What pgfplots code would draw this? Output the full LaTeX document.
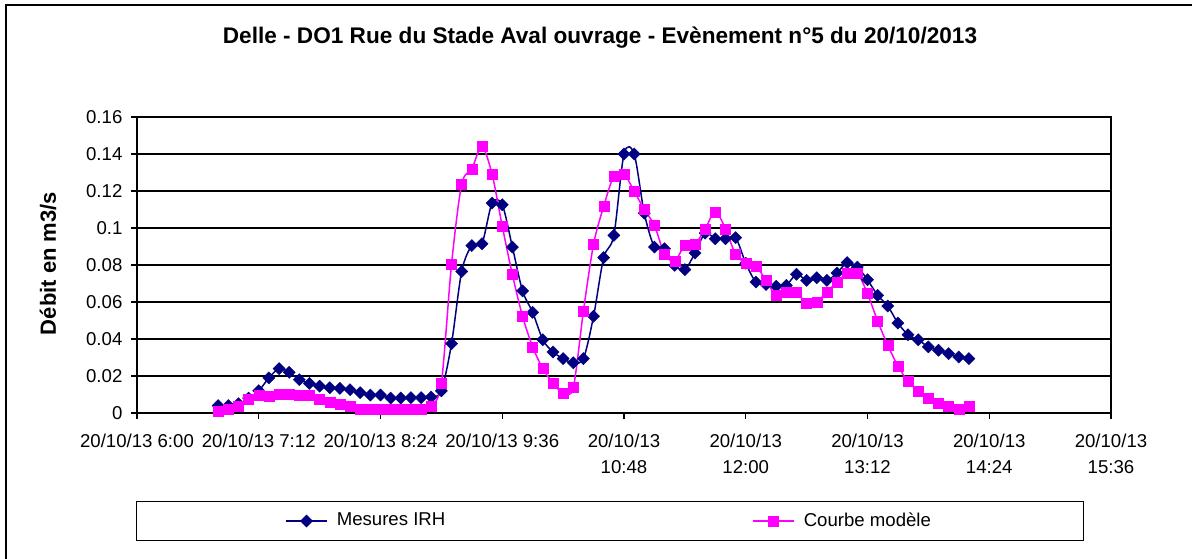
\documentclass[border=0pt]{standalone}
\usepackage{fontspec}
\setmainfont{Liberation Sans}
\usepackage{pgfplots}
\pgfplotsset{compat=1.18}
\definecolor{irh}{RGB}{0,0,128}
\definecolor{mod}{RGB}{255,0,255}
\begin{document}
\begin{tikzpicture}
\begin{axis}[
  at={(0,0)}, anchor=south west,
  width=487bp, height=148bp, scale only axis,
  xmin=6, xmax=15.6, ymin=0, ymax=0.16,
  xtick={6,7.2,8.4,9.6,10.8,12,13.2,14.4,15.6},
  xticklabels={20/10/13 6:00,20/10/13 7:12,20/10/13 8:24,20/10/13 9:36,{20/10/13\\10:48},{20/10/13\\12:00},{20/10/13\\13:12},{20/10/13\\14:24},{20/10/13\\15:36}},
  ytick={0,0.02,0.04,0.06,0.08,0.1,0.12,0.14,0.16},
  yticklabels={0,0.02,0.04,0.06,0.08,0.1,0.12,0.14,0.16},
  xtick pos=bottom, ytick pos=left,
  tick align=outside, major tick length=3bp,
  tick style={black, line width=0.7bp},
  axis line style={black, line width=0.8bp},
  ymajorgrids, grid style={black, line width=0.6bp},
  ticklabel style={font=\fontsize{9.3bp}{13bp}\selectfont},
  xticklabel style={align=center, yshift=-4bp},
  yticklabel style={xshift=-0.8bp},
  title={Delle - DO1 Rue du Stade Aval ouvrage - Evènement n°5 du 20/10/2013},
  every axis title/.style={at={(axis description cs:0.4754,1.249)}, anchor=base, font=\bfseries\fontsize{11.3bp}{13bp}\selectfont},
  ylabel={Débit en m3/s},
  ylabel style={at={(axis description cs:-0.0914,0.505)}, anchor=center, font=\bfseries\fontsize{11bp}{13bp}\selectfont},
  legend columns=2,
  legend image code/.code={\draw[mark repeat=2,mark phase=2,#1] plot coordinates {(0bp,0bp) (10.25bp,0bp) (20.5bp,0bp)};},
  legend style={at={(axis description cs:0.4858,-0.3649)}, anchor=center, draw=black, line width=0.6bp,
    inner xsep=74.25bp, inner ysep=3.5bp, font=\fontsize{9.3bp}{11bp}\selectfont,
    /tikz/every odd column/.append style={column sep=2.5bp},
    /tikz/every even column/.append style={column sep=151.5bp}},
]
\addplot[irh, line width=0.75bp, smooth, mark=square*, mark size=2.15bp, mark options={rotate=45, solid, fill=irh, draw=irh, line width=0.2bp}] coordinates {
(6.8,0.004)(6.9,0.004)(7.0,0.005)(7.1,0.008)(7.2,0.012)(7.3,0.019)(7.4,0.024)(7.5,0.022)(7.6,0.018)(7.7,0.016)
(7.8,0.0145)(7.9,0.0137)(8.0,0.0133)(8.1,0.0126)(8.2,0.011)(8.3,0.0097)(8.4,0.0097)(8.5,0.0081)(8.6,0.0081)(8.7,0.0083)
(8.8,0.0083)(8.9,0.0086)(9.0,0.012)(9.1,0.0375)(9.2,0.0765)(9.3,0.0905)(9.4,0.0915)(9.5,0.1135)(9.6,0.1126)(9.7,0.0897)
(9.8,0.066)(9.9,0.0544)(10.0,0.0396)(10.1,0.033)(10.2,0.0294)(10.3,0.0272)(10.4,0.0294)(10.5,0.0523)(10.6,0.084)(10.7,0.096)
(10.8,0.14)(10.9,0.14)(11.0,0.108)(11.1,0.0897)(11.2,0.0888)(11.3,0.0798)(11.4,0.0775)(11.5,0.0865)(11.6,0.0972)(11.7,0.0942)
(11.8,0.0942)(11.9,0.0948)(12.0,0.081)(12.1,0.0708)(12.2,0.0695)(12.3,0.0685)(12.4,0.069)(12.5,0.075)(12.6,0.0717)(12.7,0.0731)
(12.8,0.0717)(12.9,0.0757)(13.0,0.0813)(13.1,0.0789)(13.2,0.072)(13.3,0.0636)(13.4,0.0578)(13.5,0.0486)(13.6,0.0423)(13.7,0.0396)
(13.8,0.0357)(13.9,0.0339)(14.0,0.0321)(14.1,0.0303)(14.2,0.0294)
};
\addlegendentry{Mesures IRH}
\addplot[mod, line width=0.75bp, smooth, mark=square*, mark size=2.5bp, mark options={solid, fill=mod, draw=mod, line width=0.2bp}] coordinates {
(6.8,0.001)(6.9,0.0018)(7.0,0.0038)(7.1,0.0072)(7.2,0.0094)(7.3,0.0092)(7.4,0.0101)(7.5,0.0101)(7.6,0.0094)(7.7,0.0094)
(7.8,0.0072)(7.9,0.0061)(8.0,0.0045)(8.1,0.0036)(8.2,0.0023)(8.3,0.0018)(8.4,0.0018)(8.5,0.0018)(8.6,0.0018)(8.7,0.0018)
(8.8,0.0018)(8.9,0.0036)(9.0,0.0163)(9.1,0.0804)(9.2,0.1236)(9.3,0.132)(9.4,0.144)(9.5,0.129)(9.6,0.101)(9.7,0.0748)
(9.8,0.0523)(9.9,0.0357)(10.0,0.024)(10.1,0.0162)(10.2,0.0108)(10.3,0.0137)(10.4,0.0551)(10.5,0.0912)(10.6,0.1117)(10.7,0.128)
(10.8,0.129)(10.9,0.12)(11.0,0.1099)(11.1,0.1014)(11.2,0.0858)(11.3,0.0822)(11.4,0.0906)(11.5,0.0912)(11.6,0.0996)(11.7,0.1088)
(11.8,0.0996)(11.9,0.0858)(12.0,0.0811)(12.1,0.0795)(12.2,0.0717)(12.3,0.0636)(12.4,0.0654)(12.5,0.0654)(12.6,0.0591)(12.7,0.06)
(12.8,0.0654)(12.9,0.0708)(13.0,0.0757)(13.1,0.0757)(13.2,0.0645)(13.3,0.0497)(13.4,0.0366)(13.5,0.0254)(13.6,0.0171)(13.7,0.0119)
(13.8,0.0081)(13.9,0.0054)(14.0,0.0036)(14.1,0.0023)(14.2,0.0036)
};
\addlegendentry{Courbe modèle}
\end{axis}
\pgfresetboundingbox
\useasboundingbox (-68.5bp,-73bp) rectangle (527.5bp,206.5bp);
\draw[line width=1bp] (-65.5bp,-80bp) -- (-65.5bp,204bp) -- (540bp,204bp);
\end{tikzpicture}
\end{document}
